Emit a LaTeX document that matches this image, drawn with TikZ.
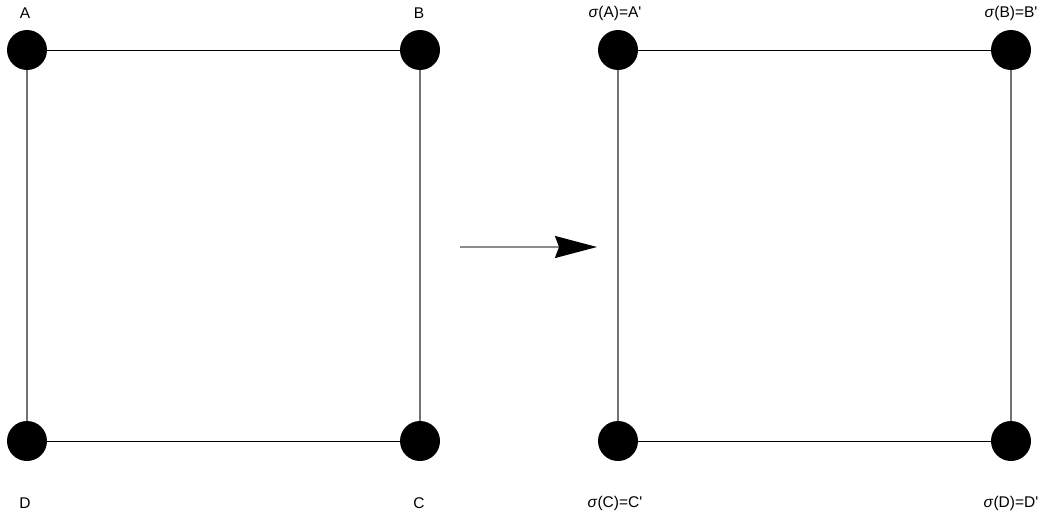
\documentclass[tikz,border=0pt]{standalone}
\usepackage{fontspec}
\setmainfont{Liberation Sans}
\usetikzlibrary{arrows.meta}
\tikzset{
  vtx/.style={circle, fill=black, minimum size=40pt, inner sep=0pt},
  lbl/.style={font=\fontsize{15.5}{18}\selectfont, inner sep=0pt, text=black},
  hline/.style={draw=black, line width=0.9pt},
  vline/.style={draw=black!55, line width=1.3pt},
  maparrow/.style={draw=black!45, line width=1.5pt, -{Stealth[length=42pt,width=22pt,inset=4pt,black]}}
}
\begin{document}
\begin{tikzpicture}[x=1pt,y=-1pt]
\useasboundingbox (0,0) rectangle (1044,519);
% left square
\node[vtx] (A) at (27,50) {};
\node[vtx] (B) at (420,50) {};
\node[vtx] (C) at (420,441) {};
\node[vtx] (D) at (27,441) {};
\draw[hline] (A) -- (B);
\draw[hline] (D) -- (C);
\draw[vline] (A) -- (D);
\draw[vline] (B) -- (C);
\node[lbl] (lA) at (25,13) {A};
\node[lbl] (lB) at (419,13) {B};
\node[lbl] (lD) at (25,503) {D};
\node[lbl] (lC) at (419,503) {C};
% right square
\node[vtx] (A2) at (618,50) {};
\node[vtx] (B2) at (1011,50) {};
\node[vtx] (C2) at (618,441) {};
\node[vtx] (D2) at (1011,441) {};
\draw[hline] (A2) -- (B2);
\draw[hline] (C2) -- (D2);
\draw[vline] (A2) -- (C2);
\draw[vline] (B2) -- (D2);
\node[lbl] (lA2) at (615,13) {\textit{σ}(A)=A\textquotesingle};
\node[lbl] (lB2) at (1011,13) {\textit{σ}(B)=B\textquotesingle};
\node[lbl] (lC2) at (615,503) {\textit{σ}(C)=C\textquotesingle};
\node[lbl] (lD2) at (1011,503) {\textit{σ}(D)=D\textquotesingle};
% arrow
\coordinate (s) at (460,247);
\coordinate (t) at (597,247);
\draw[maparrow] (s) -- (t);
\end{tikzpicture}
\end{document}
